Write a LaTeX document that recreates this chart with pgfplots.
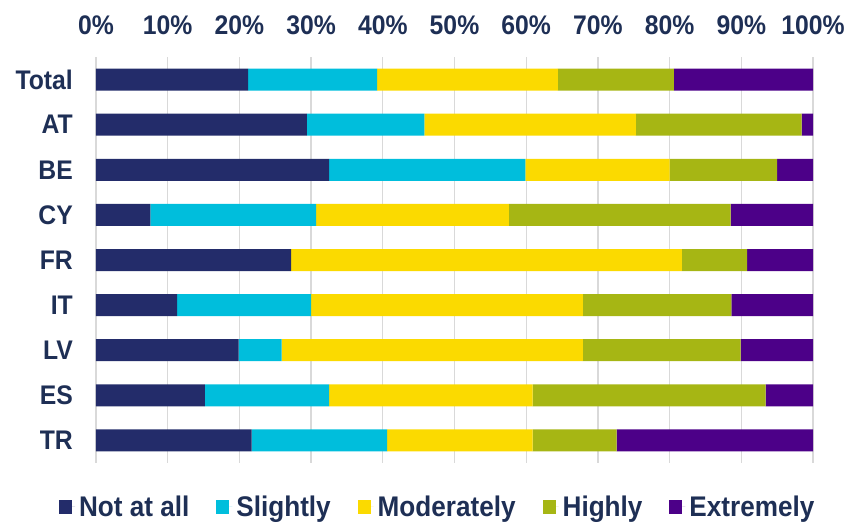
\documentclass[border=0pt]{standalone}
\usepackage{fontspec}
\setmainfont{Liberation Sans}[FakeStretch=0.92]
\usepackage{pgfplots}
\usepackage{pgfplotstable}
\pgfplotsset{compat=1.18}

\definecolor{txt}{HTML}{1E2F55}
\definecolor{cnot}{HTML}{232C6A}
\definecolor{cslight}{HTML}{00BEDC}
\definecolor{cmod}{HTML}{FBDA00}
\definecolor{chigh}{HTML}{A6B614}
\definecolor{cext}{HTML}{4C0088}
\definecolor{gridgray}{HTML}{D9D9D9}

% shares in %, rows: Total, AT, BE, CY, FR, IT, LV, ES, TR
\pgfplotstableread{
idx notatall slightly moderately highly extremely
0   21.2     18.0     25.2       16.2   19.4
1   29.4     16.4     29.5       23.1   1.6
2   32.5     27.4     20.1       15.0   5.0
3   7.6      23.1     26.9       30.9   11.5
4   27.2     0.0      54.5       9.1    9.2
5   11.3     18.7     37.9       20.7   11.4
6   19.9     6.0      42.0       22.0   10.1
7   15.2     17.3     28.4       32.5   6.6
8   21.7     18.9     20.3       11.7   27.4
}\shares

\begin{document}
\begin{tikzpicture}
\path[use as bounding box] (-96bp,-61bp) rectangle (757bp,463bp);
\begin{axis}[
  scale only axis,
  width=717bp, height=406bp,
  xbar stacked,
  bar width=22bp,
  xmin=0, xmax=100,
  ymin=-0.5, ymax=8.5,
  y dir=reverse,
  axis x line*=top,
  axis y line*=left,
  axis line style={draw=none},
  xtick={0,10,...,100},
  xticklabels={0\%,10\%,20\%,30\%,40\%,50\%,60\%,70\%,80\%,90\%,100\%},
  ytick={0,...,8},
  yticklabels={Total,AT,BE,CY,FR,IT,LV,ES,TR},
  major tick length=0pt,
  xmajorgrids,
  grid style={color=gridgray, line width=1.3bp},
  tick label style={font=\fontsize{27}{30}\selectfont\bfseries, text=txt},
  xticklabel style={inner sep=0pt, text depth=0pt, yshift=22bp},
  yticklabel style={inner sep=0pt, xshift=-23bp},
  legend style={
    at={(0.478,-0.108)}, anchor=center,
    draw=none, legend columns=-1,
    font=\fontsize{28.5}{30}\selectfont\bfseries, text=txt,
    nodes={inner sep=4bp},
    /tikz/every even column/.append style={column sep=23bp},
  },
  legend image code/.code={%
    \fill[#1] (0bp,-7bp) rectangle (13bp,7bp);
    \path (13bp,0bp) -- (16bp,0bp);},
]
\addplot[fill=cnot, draw=none] table[x=notatall, y=idx] {\shares};
\addplot[fill=cslight, draw=none] table[x=slightly, y=idx] {\shares};
\addplot[fill=cmod, draw=none] table[x=moderately, y=idx] {\shares};
\addplot[fill=chigh, draw=none] table[x=highly, y=idx] {\shares};
\addplot[fill=cext, draw=none] table[x=extremely, y=idx] {\shares};
\legend{Not at all, Slightly, Moderately, Highly, Extremely}
\end{axis}
\end{tikzpicture}
\end{document}
